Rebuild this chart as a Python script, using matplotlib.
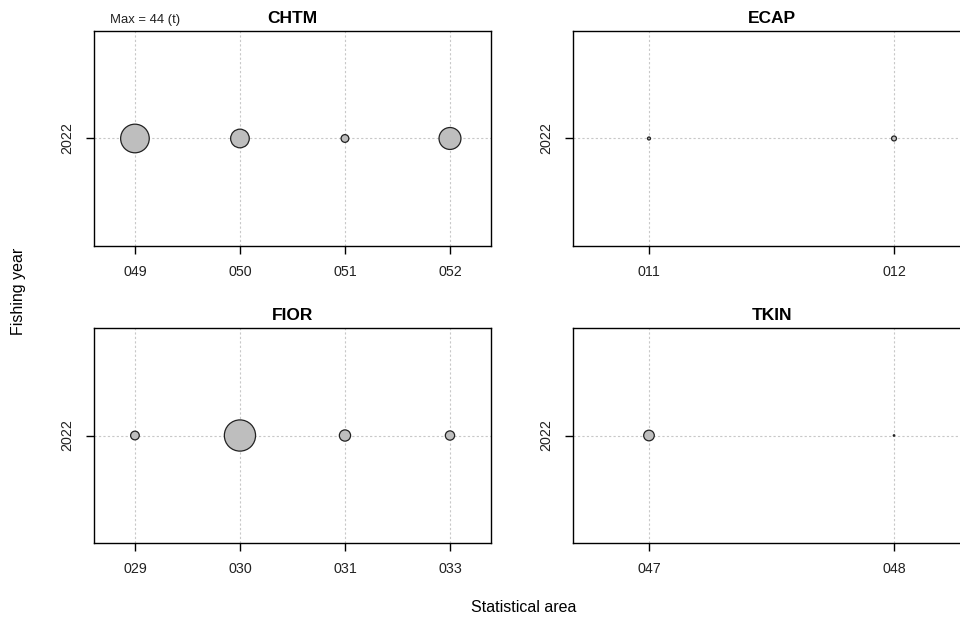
import matplotlib
matplotlib.use("Agg")
import matplotlib.pyplot as plt

plt.rcParams['font.family'] = ['Liberation Sans', 'DejaVu Sans']

# catch (t) by statistical area for each target, fishing year 2022
year = 2022
chtm_areas = ['049', '050', '051', '052']
chtm_catch = [37.0, 15.7, 2.7, 21.7]
ecap_areas = ['011', '012']
ecap_catch = [0.4, 1.1]
fior_areas = ['029', '030', '031', '033']
fior_catch = [3.4, 44.0, 5.7, 3.9]
tkin_areas = ['047', '048']
tkin_catch = [5.1, 0.1]

max_catch = 44
max_size = 505.0  # marker area (pt^2) for the largest catch

panels = [
    ('CHTM', chtm_areas, chtm_catch, [0.0979, 0.6039]),
    ('ECAP', ecap_areas, ecap_catch, [0.5969, 0.6039]),
    ('FIOR', fior_areas, fior_catch, [0.0979, 0.1256]),
    ('TKIN', tkin_areas, tkin_catch, [0.5969, 0.1256]),
]

fig = plt.figure(figsize=(9.6, 6.21), dpi=100)

for name, areas, catch, (x0, y0) in panels:
    ax = fig.add_axes([x0, y0, 0.4135, 0.3462])
    pos = list(range(1, len(areas) + 1))
    # dotted reference grid
    for p in pos:
        ax.axvline(p, color='#c8c8c8', lw=0.8, ls=(0, (2, 2)), zorder=0)
    ax.axhline(year, color='#c8c8c8', lw=0.8, ls=(0, (2, 2)), zorder=0)
    sizes = [max_size * c / max_catch for c in catch]
    ax.scatter(pos, [year] * len(pos), s=sizes, c='#bebebe',
               edgecolors='#222222', linewidths=0.9, zorder=3)
    pad = 0.39 if len(areas) > 2 else 0.31
    ax.set_xlim(1 - pad, len(areas) + pad)
    ax.set_ylim(year - 1, year + 1)
    ax.set_xticks(pos)
    ax.set_xticklabels(areas, fontsize=10.3, color='#222222')
    ax.set_yticks([year])
    ax.set_yticklabels([str(year)], fontsize=10.3, rotation=90, va='center',
                       color='#222222')
    ax.tick_params(direction='out', length=6, width=1, pad=8)
    for sp in ax.spines.values():
        sp.set_linewidth(1)
    ax.set_title(name, fontsize=12.5, fontweight='bold', pad=6)

fig.text(0.1146, 0.968, 'Max = %d (t)' % max_catch, fontsize=9.4, va='center',
         color='#222222')
fig.text(0.019, 0.53, 'Fishing year', rotation=90, fontsize=11.5,
         ha='center', va='center')
fig.text(0.546, 0.021, 'Statistical area', fontsize=11.5,
         ha='center', va='center')

fig.savefig('out.png', dpi=100)
